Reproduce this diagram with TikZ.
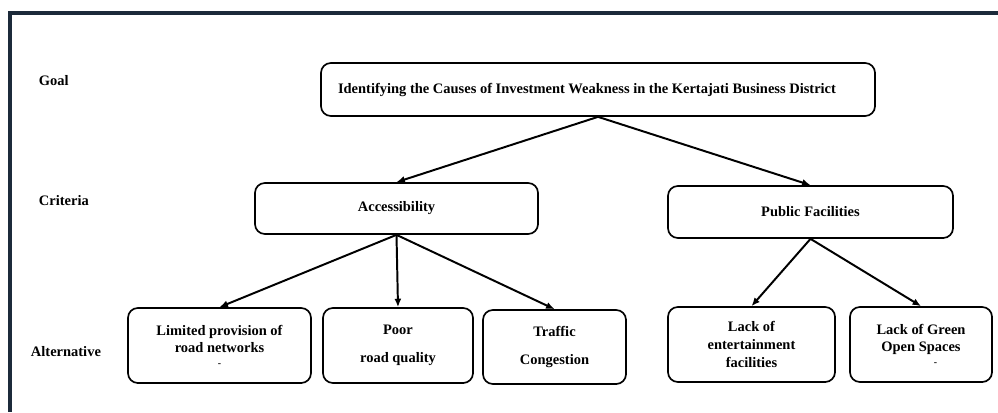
\documentclass[tikz,border=0pt]{standalone}
\usepackage{fontspec}
\setmainfont{Liberation Serif}
\usetikzlibrary{arrows.meta,positioning}

\begin{document}
\begin{tikzpicture}[
		arrow/.style={-{Latex[length=6pt,width=5pt]}, line width=1.4pt},
		block/.style={draw, line width=1.2pt, rounded corners=7pt, align=center, font=\fontsize{10.3}{12.5}\selectfont\bfseries},
		level/.style={anchor=west, font=\fontsize{10.3}{12.5}\selectfont\bfseries},
	]
		\useasboundingbox (0,0) rectangle (24.95,-10.3);
		\draw[line width=2.2pt, draw={rgb,255:red,28;green,42;blue,58}] (0.2,-0.325) -- (24.95,-0.325);
		\draw[line width=2.2pt, draw={rgb,255:red,28;green,42;blue,58}] (0.25,-0.325) -- (0.25,-10.3);

		\node (goal) [level] at (0.85,-2.025) {Goal};
		\node (crit) [level] at (0.85,-5.025) {Criteria};
		\node (alt) [level] at (0.65,-8.8) {Alternative};

		\node (g) at (14.95,-2.2375) [block, minimum width=13.85cm, minimum height=1.325cm] {Identifying the Causes of Investment Weakness in the Kertajati Business District\hspace*{0.55cm}};

		\node (acc) at (9.9125,-5.2125) [block, minimum width=7.075cm, minimum height=1.275cm] {Accessibility};
		\node (pub) at (20.2625,-5.3) [block, minimum width=7.125cm, minimum height=1.3cm] {Public Facilities};

		\node (lim) at (5.4875,-8.6375) [block, minimum width=4.575cm, minimum height=1.875cm] {Limited provision of\\road networks\\[-3pt]{\scriptsize -}};
		\node (poor) at (9.95,-8.6375) [block, minimum width=3.75cm, minimum height=1.875cm] {Poor\\[7pt]road quality};
		\node (traf) at (13.8625,-8.675) [block, minimum width=3.575cm, minimum height=1.85cm] {Traffic\\[7pt]Congestion};
		\node (ent) at (18.7875,-8.6125) [block, minimum width=4.175cm, minimum height=1.875cm] {Lack of\\entertainment\\facilities};
		\node (green) at (23.025,-8.6125) [block, minimum width=3.55cm, minimum height=1.875cm] {Lack of Green\\Open Spaces\\[-3pt]\hspace*{2em}{\scriptsize -}};

		\draw[arrow] (g.south) -- (acc.north);
		\draw[arrow] (g.south) -- (pub.north);
		\draw[arrow] (acc.south) -- (lim.north);
		\draw[arrow] (acc.south) -- (poor.north);
		\draw[arrow] (acc.south) -- (traf.north);
		\draw[arrow] (pub.south) -- (ent.north);
		\draw[arrow] (pub.south) -- (green.north);
	\end{tikzpicture}
\end{document}
